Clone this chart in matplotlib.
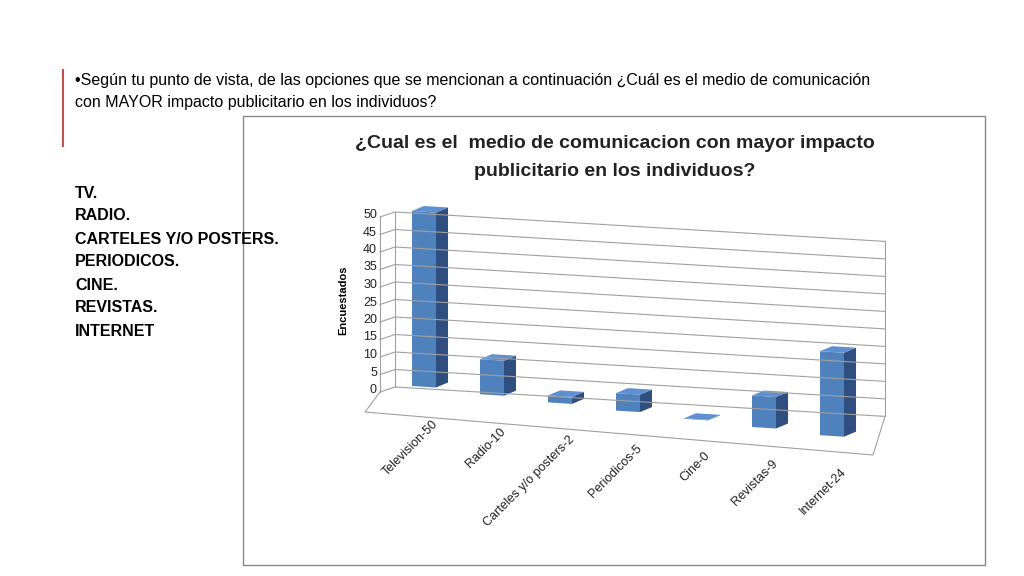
import matplotlib
matplotlib.use("Agg")
import matplotlib.pyplot as plt
from matplotlib.patches import Polygon, Rectangle

categories = ["Television-50", "Radio-10", "Carteles y/o posters-2", "Periodicos-5", "Cine-0", "Revistas-9", "Internet-24"]
values = [50, 10, 2, 5, 0, 9, 24]
yticks = [0, 5, 10, 15, 20, 25, 30, 35, 40, 45, 50]
options = ["TV.", "RADIO.", "CARTELES Y/O POSTERS.", "PERIODICOS.", "CINE.", "REVISTAS.", "INTERNET"]

plt.rcParams["font.family"] = "Liberation Sans"
fig = plt.figure(figsize=(10.24, 5.76), dpi=100)
ax = fig.add_axes([0, 0, 1, 1])
ax.set_xlim(0, 1024); ax.set_ylim(576, 0); ax.axis("off")

# slide text
ax.plot([63, 63], [70, 146], color="#c0504d", lw=1.5)
ax.text(75, 80, "•Según tu punto de vista, de las opciones que se mencionan a continuación ¿Cuál es el medio de comunicación",
        fontsize=11.5, va="center")
ax.text(75, 103, "con MAYOR impacto publicitario en los individuos?", fontsize=11.5, va="center")
# chart frame
ax.add_patch(Rectangle((243, 116), 742, 449, fill=False, ec="#888888", lw=1))
ax.text(615, 143, "¿Cual es el  medio de comunicacion con mayor impacto", fontsize=14, fontweight="bold",
        ha="center", va="center", color="#222222")
ax.text(615, 172, "publicitario en los individuos?", fontsize=14, fontweight="bold",
        ha="center", va="center", color="#222222")
for k, t in enumerate(options):
    ax.text(75, 193 + k * 23, t, fontsize=11.5, fontweight="bold", va="center")

# pseudo-3D axes
scale = 3.5
def wall(v, x):  # back wall y at height v, position x
    return 387 - scale * v + (x - 395) * 0.06
gc = "#a0a0a0"
for v in yticks:
    ax.plot([380, 395, 885], [392 - scale * v, wall(v, 395) - 5 + 5, wall(v, 885)], color=gc, lw=0.8)
    ax.text(377, 390 - scale * v, str(v), fontsize=9, ha="right", va="center", color="#222222")
ax.plot([380, 380], [217, 392], color=gc, lw=0.8)
ax.plot([395, 395], [212, 387], color=gc, lw=0.8)
ax.plot([885, 885], [wall(50, 885), wall(0, 885)], color=gc, lw=0.8)
ax.plot([380, 365, 873, 885], [392, 412, 455, wall(0, 885)], color=gc, lw=0.8)
ax.text(343, 300, "Encuestados", rotation=90, fontsize=8, fontweight="bold", ha="center", va="center")

front, side, top = "#4f81bd", "#2f4f80", "#5e8fd0"
w, dx, dy = 24, 12, -5
for i, (c, v) in enumerate(zip(categories, values)):
    xc = 424 + i * 68
    yb = 386 + i * 8.2
    x0, x1 = xc - w / 2, xc + w / 2
    h = max(scale * v, 0.5)
    yt = yb - h
    ax.add_patch(Polygon([(x0, yb), (x1, yb + 1.5), (x1, yt + 1.5), (x0, yt)], closed=True, fc=front, ec="none"))
    ax.add_patch(Polygon([(x1, yb + 1.5), (x1 + dx, yb + 1.5 + dy), (x1 + dx, yt + 1.5 + dy), (x1, yt + 1.5)],
                         closed=True, fc=side, ec="none"))
    ax.add_patch(Polygon([(x0, yt), (x1, yt + 1.5), (x1 + dx, yt + 1.5 + dy), (x0 + dx, yt + dy)],
                         closed=True, fc=top, ec="none"))
    ax.text(xc + 8, 418 + i * 8, c, rotation=45, fontsize=9, ha="right", va="top",
            rotation_mode="anchor", color="#222222")

fig.savefig("out.png", dpi=100)
